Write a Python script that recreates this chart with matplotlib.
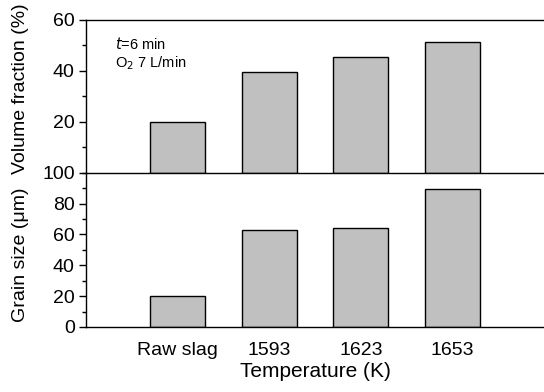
import numpy as np
import matplotlib
matplotlib.use('Agg')
import matplotlib.pyplot as plt
from matplotlib.ticker import MultipleLocator

plt.rcParams['font.family'] = ['Liberation Sans', 'DejaVu Sans']

categories = ['Raw slag', '1593', '1623', '1653']
volume_fraction = [20.0, 39.7, 45.6, 51.4]
grain_size = [20.0, 62.6, 63.9, 89.6]

fig = plt.figure(figsize=(5.44, 3.92), dpi=100)
ax1 = fig.add_axes([0.158, 0.559, 0.842, 0.39])
ax2 = fig.add_axes([0.158, 0.166, 0.842, 0.393])
ax2.patch.set_visible(False)
ax1.set_zorder(2)
ax1.patch.set_visible(False)

x = np.arange(1, len(categories) + 1)
bar_kw = dict(width=0.6, color='#c0c0c0', edgecolor='black', linewidth=1.0)

ax1.bar(x, volume_fraction, **bar_kw)
ax2.bar(x, grain_size, **bar_kw)

for ax in (ax1, ax2):
    ax.set_xlim(0, 5)
    ax.spines['right'].set_visible(False)
    ax.tick_params(axis='y', which='major', direction='out', length=5, width=1,
                   labelsize=14, pad=3)
    ax.tick_params(axis='y', which='minor', direction='out', length=3, width=1)
    for s in ax.spines.values():
        s.set_linewidth(1.0)

ax1.set_ylim(0, 60)
ax1.yaxis.set_major_locator(MultipleLocator(20))
ax1.yaxis.set_minor_locator(MultipleLocator(10))
ax1.set_yticks([20, 40, 60])
ax1.set_xticks([])
ax1.set_ylabel('Volume fraction (%)', fontsize=14)

ax2.set_ylim(0, 100)
ax2.yaxis.set_major_locator(MultipleLocator(20))
ax2.yaxis.set_minor_locator(MultipleLocator(10))
ax2.spines['top'].set_visible(False)
ax2.set_xticks(x)
ax2.set_xticklabels(categories)
ax2.tick_params(axis='x', length=0, labelsize=14, pad=11)
ax2.set_ylabel('Grain size (\u03bcm)', fontsize=14)
ax2.set_xlabel('Temperature (K)', fontsize=15, labelpad=2)

ax1.yaxis.set_label_coords(-0.124, 0.55)
ax2.yaxis.set_label_coords(-0.124, 0.47)

ax1.text(0.063, 0.843, r'$t$=6 min', transform=ax1.transAxes, fontsize=10.5,
         ha='left', va='center')
ax1.text(0.063, 0.72, 'O$_2$ 7 L/min', transform=ax1.transAxes, fontsize=10.5,
         ha='left', va='center')

fig.savefig('out.png', dpi=100)
